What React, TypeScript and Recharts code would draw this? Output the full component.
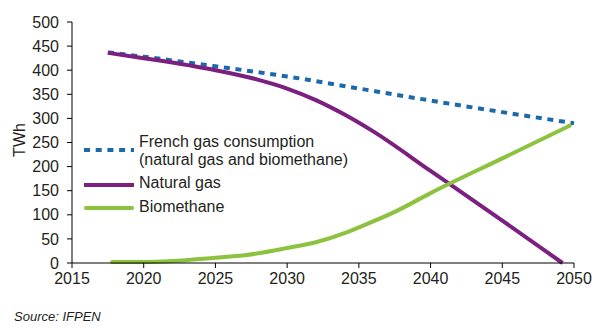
import React from "react";
import { LineChart, Line, XAxis, YAxis } from "recharts";

const xTicks = [2015, 2020, 2025, 2030, 2035, 2040, 2045, 2050];
const yTicks = [0, 50, 100, 150, 200, 250, 300, 350, 400, 450, 500];

const totalYears = [2017.5, 2020, 2025, 2030, 2035, 2040, 2045, 2050];
const totalValues = [437, 428, 408, 387, 362, 337, 313, 290];

const gasYears = [2017.5, 2020, 2025, 2028, 2030, 2032, 2034, 2036, 2040, 2045, 2049.2];
const gasValues = [436, 425, 400, 380, 362, 338, 308, 273, 191, 88, 0];

const bioYears = [2017.8, 2020, 2022, 2025, 2027, 2030, 2032, 2034, 2035, 2037.5, 2040, 2045, 2049.7];
const bioValues = [2, 2, 4, 11, 16, 31, 43, 62, 74, 106, 145, 217, 285];

const zip = (years: number[], values: number[]) =>
  years.map((year, i) => ({ year, value: values[i] }));

const totalData = zip(totalYears, totalValues);
const gasData = zip(gasYears, gasValues);
const bioData = zip(bioYears, bioValues);

const BLUE = "#1b68ad";
const PURPLE = "#7b1f80";
const GREEN = "#8cc23d";
const TEXT = "#231f20";
const FONT = "'Liberation Sans', Arial, sans-serif";

function LegendBox() {
  return (
    <svg width={280} height={90} style={{ position: "absolute", left: 80, top: 130 }}>
      <line x1={4} x2={54} y1={20} y2={20} stroke={BLUE} strokeWidth={4} strokeDasharray="6 5.7" />
      <line x1={4} x2={54} y1={55} y2={55} stroke={PURPLE} strokeWidth={4} />
      <line x1={6} x2={52} y1={78} y2={78} stroke={GREEN} strokeWidth={4} strokeLinecap="round" />
      <g fill={TEXT} fontSize={16} fontFamily={FONT}>
        <text x={59} y={17}>French gas consumption</text>
        <text x={59} y={35}>(natural gas and biomethane)</text>
        <text x={59} y={58}>Natural gas</text>
        <text x={59} y={82}>Biomethane</text>
      </g>
    </svg>
  );
}

export default function App() {
  return (
    <div style={{ position: "absolute", left: 0, top: 0, width: 611, height: 332, background: "#fff", fontFamily: FONT }}>
      <LineChart width={611} height={332} margin={{ top: 22, right: 37, left: 0, bottom: 39 }}>
        <XAxis
          type="number"
          dataKey="year"
          domain={[2015, 2050]}
          ticks={xTicks}
          interval={0}
          allowDuplicatedCategory={false}
          height={30}
          tickSize={5}
          tickMargin={5}
          stroke="#000"
          tick={{ fill: TEXT, fontSize: 16 }}
        />
        <YAxis
          type="number"
          domain={[0, 500]}
          ticks={yTicks}
          interval={0}
          width={72}
          tickSize={5}
          tickMargin={8}
          stroke="#000"
          tick={{ fill: TEXT, fontSize: 16 }}
        />
        <Line data={totalData} dataKey="value" type="monotone" stroke={BLUE} strokeWidth={4} strokeDasharray="6 5.7" dot={false} isAnimationActive={false} />
        <Line data={gasData} dataKey="value" type="monotone" stroke={PURPLE} strokeWidth={4} dot={false} isAnimationActive={false} />
        <Line data={bioData} dataKey="value" type="monotone" stroke={GREEN} strokeWidth={4} strokeLinecap="round" dot={false} isAnimationActive={false} />
      </LineChart>
      <div
        style={{
          position: "absolute",
          left: 9,
          top: 140,
          transform: "translate(-50%, -50%) rotate(-90deg)",
          fontSize: 16,
          color: TEXT,
          whiteSpace: "nowrap",
          transformOrigin: "center",
          marginLeft: 11,
        }}
      >
        TWh
      </div>
      <LegendBox />
      <div style={{ position: "absolute", left: 14, top: 309, fontSize: 13, fontStyle: "italic", color: TEXT }}>
        Source: IFPEN
      </div>
    </div>
  );
}
